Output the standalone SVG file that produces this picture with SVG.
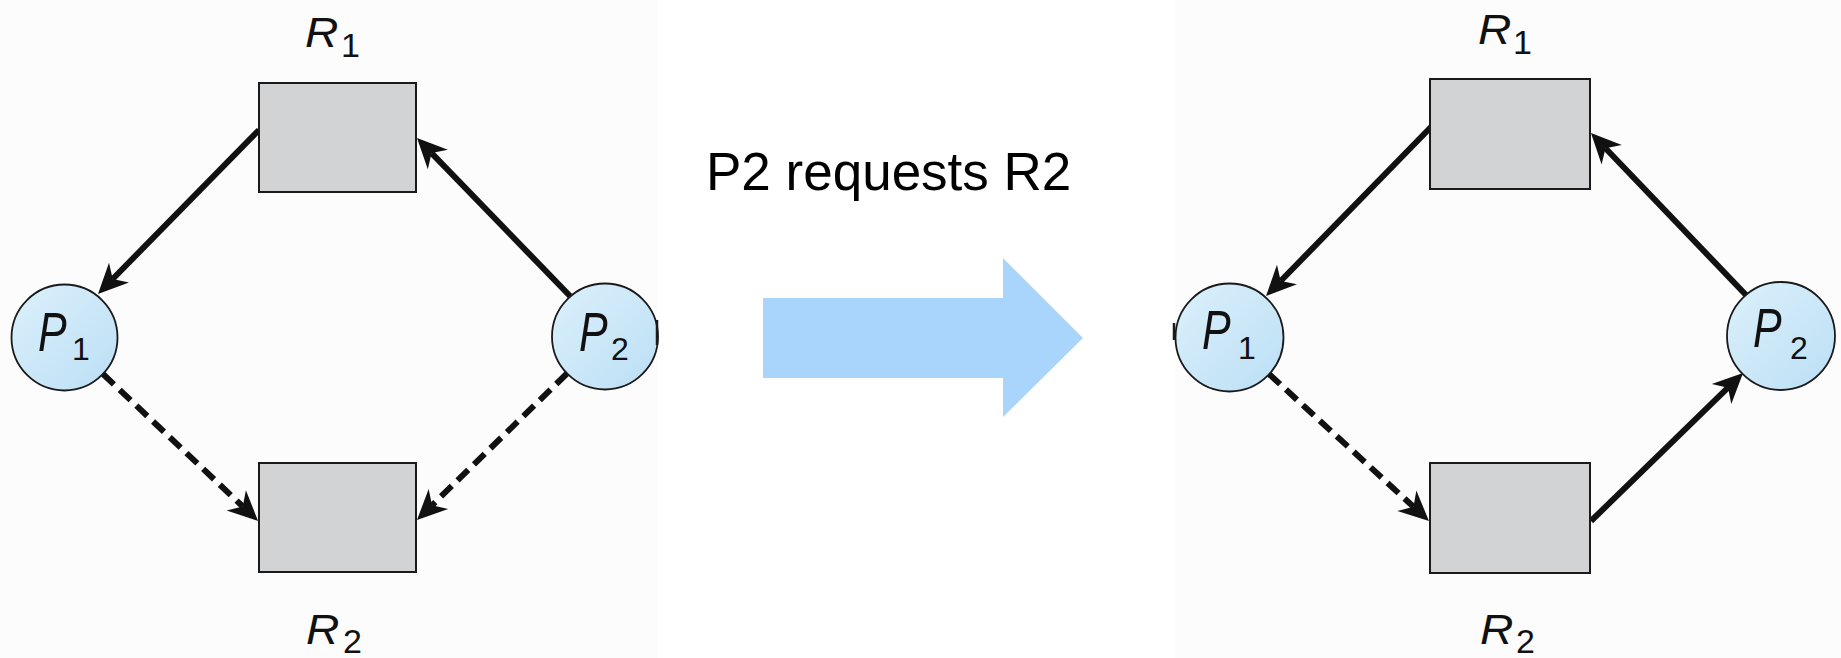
<svg xmlns="http://www.w3.org/2000/svg" width="1841" height="658" viewBox="0 0 1841 658">
  <style>
    .panel { fill: #fcfcfc; }
    .res { fill: #d1d3d4; stroke: #1a1a1a; stroke-width: 2; }
    .proc { fill: url(#procFill); stroke: #1a1a1a; stroke-width: 1.8; }
    .lbl { font-family: "Liberation Sans", Arial, Helvetica, sans-serif; fill: #111; }
    .big { font-style: italic; font-size: 55px; }
    .rname { font-style: italic; font-size: 42px; }
    .sub { font-size: 34px; }
    .psub { font-size: 32px; }
    .title { font-family: "Liberation Sans", Arial, Helvetica, sans-serif; font-size: 53px; fill: #000; }
    .edge { fill: none; stroke: #111; stroke-width: 6; marker-end: url(#head); }
    .dash { stroke-dasharray: 15 8; }
    .tick { stroke: #1a1a1a; stroke-width: 2.5; }
  </style>
  <defs>
    <linearGradient id="procFill" x1="0" y1="0" x2="1" y2="1">
      <stop offset="0" stop-color="#dcf0fb"/>
      <stop offset="1" stop-color="#bbdff5"/>
    </linearGradient>
    <!-- barbed arrowhead; reference point sits in the notch, tip 21px ahead -->
    <marker id="head" markerUnits="userSpaceOnUse" viewBox="-10 -15 32 30" refX="0" refY="0" markerWidth="32" markerHeight="30" orient="auto" overflow="visible">
      <path d="M21,0 L-9,-14 L0,0 L-9,14 Z" fill="#111"/>
    </marker>
  </defs>

  <rect class="panel" x="0" y="0" width="658" height="658"/>
  <rect class="panel" x="1175" y="0" width="666" height="658"/>

  <!-- state transition arrow -->
  <g id="transition">
    <text class="title" x="706" y="190">P2 requests R2</text>
    <polygon points="763,298 1003,298 1003,258 1083,338 1003,417 1003,378 763,378" fill="#a9d5fc"/>
  </g>

  <!-- connectors -->
  <g id="connectors">
    <!-- before -->
    <path class="edge" d="M259,130 L112.7,279"/>
    <path class="edge" d="M570,296 L431.6,153.1"/>
    <path class="edge dash" d="M103,374 L242.8,506.5"/>
    <path class="edge dash" d="M567,373.5 L432,505.3"/>
    <!-- after -->
    <path class="edge" d="M1431,127 L1280.7,281"/>
    <path class="edge" d="M1746,295 L1605.5,148.2"/>
    <path class="edge dash" d="M1269,374 L1413.5,506.8"/>
    <path class="edge" d="M1591,521 L1728,387.7"/>
  </g>

  <!-- before: resources -->
  <g id="l-R1">
    <rect class="res" x="259" y="83" width="157" height="109"/>
    <text class="lbl rname" transform="translate(305,47) scale(1.1,1)">R</text>
    <text class="lbl sub" x="341" y="57">1</text>
  </g>
  <g id="l-R2">
    <rect class="res" x="259" y="463" width="157" height="109"/>
    <text class="lbl rname" transform="translate(306,644) scale(1.1,1)">R</text>
    <text class="lbl sub" x="343" y="653">2</text>
  </g>
  <!-- before: processes -->
  <g id="l-P1">
    <circle class="proc" cx="64.5" cy="337.5" r="53"/>
    <text class="lbl big" transform="translate(38,351) scale(0.78,1)">P</text>
    <text class="lbl psub" x="72" y="360">1</text>
  </g>
  <g id="l-P2">
    <circle class="proc" cx="605" cy="336.5" r="53"/>
    <line class="tick" x1="657" y1="320" x2="657" y2="345"/>
    <text class="lbl big" transform="translate(579,351) scale(0.78,1)">P</text>
    <text class="lbl psub" x="611" y="360">2</text>
  </g>

  <!-- after: resources -->
  <g id="r-R1">
    <rect class="res" x="1430" y="79" width="160" height="110"/>
    <text class="lbl rname" transform="translate(1478,44) scale(1.1,1)">R</text>
    <text class="lbl sub" x="1513" y="54">1</text>
  </g>
  <g id="r-R2">
    <rect class="res" x="1430" y="463" width="160" height="110"/>
    <text class="lbl rname" transform="translate(1480,644) scale(1.1,1)">R</text>
    <text class="lbl sub" x="1516" y="653">2</text>
  </g>
  <!-- after: processes -->
  <g id="r-P1">
    <circle class="proc" cx="1229.5" cy="337.5" r="54"/>
    <line class="tick" x1="1174" y1="323" x2="1174" y2="340"/>
    <text class="lbl big" transform="translate(1202,349) scale(0.78,1)">P</text>
    <text class="lbl psub" x="1238" y="359">1</text>
  </g>
  <g id="r-P2">
    <circle class="proc" cx="1781" cy="336" r="54"/>
    <text class="lbl big" transform="translate(1753,347) scale(0.78,1)">P</text>
    <text class="lbl psub" x="1790" y="359">2</text>
  </g>
</svg>
